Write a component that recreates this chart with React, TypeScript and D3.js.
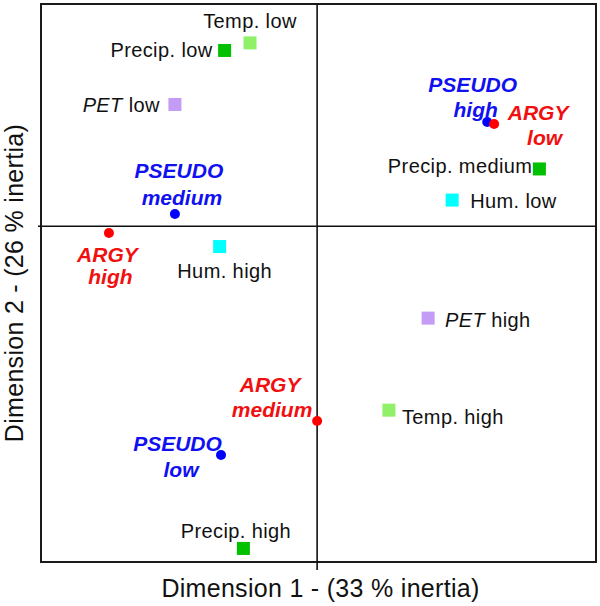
import React from "react";
import * as d3 from "d3";

// ---- Data ----
const modalities = [
  "Temp. low", "Precip. low", "PET low", "PSEUDO high", "ARGY low",
  "Precip. medium", "Hum. low", "PSEUDO medium", "ARGY high", "Hum. high",
  "PET high", "ARGY medium", "Temp. high", "PSEUDO low", "Precip. high",
];
const variables = [
  "Temp", "Precip", "PET", "PSEUDO", "ARGY",
  "Precip", "Hum", "PSEUDO", "ARGY", "Hum",
  "PET", "ARGY", "Temp", "PSEUDO", "Precip",
];
const dim1 = [
  -0.243, -0.335, -0.515, 0.616, 0.641,
  0.805, 0.489, -0.515, -0.754, -0.353,
  0.402, 0.0, 0.26, -0.348, -0.267,
];
const dim2 = [
  0.825, 0.791, 0.548, 0.469, 0.46,
  0.258, 0.118, 0.055, -0.03, -0.091,
  -0.413, -0.876, -0.827, -1.029, -1.449,
];
const xTitle = "Dimension 1 - (33 % inertia)";
const yTitle = "Dimension 2 - (26 % inertia)";

// ---- Styling / layout ----
const W = 600, H = 606;
const box = { left: 41, right: 596, top: 4, bottom: 562 };
const colorOf: Record<string, string> = {
  Temp: "#90f068",
  Precip: "#00c000",
  PET: "#c49cf6",
  Hum: "#00ffff",
  PSEUDO: "#0000ff",
  ARGY: "#ff0000",
};
const textColorOf: Record<string, string> = {
  PSEUDO: "#1010f0",
  ARGY: "#f01010",
};
// label placement (per modality): lines with anchor and pixel offsets from marker
type Line = { t: string; a: "start" | "middle" | "end"; dx: number; dy: number };
const labelLayout: Line[][] = [
  [{ t: "Temp. low", a: "middle", dx: 0, dy: -15 }],
  [{ t: "Precip. low", a: "end", dx: -12, dy: 6.5 }],
  [{ t: "PET| low", a: "end", dx: -15, dy: 7.5 }],
  [{ t: "PSEUDO", a: "middle", dx: -14.5, dy: -30 }, { t: "high", a: "middle", dx: -11.5, dy: -5 }],
  [{ t: "ARGY", a: "middle", dx: 44, dy: -4 }, { t: "low", a: "middle", dx: 50.5, dy: 21 }],
  [{ t: "Precip. medium", a: "end", dx: -7, dy: 4 }],
  [{ t: "Hum. low", a: "start", dx: 18, dy: 8 }],
  [{ t: "PSEUDO", a: "middle", dx: 4, dy: -36 }, { t: "medium", a: "middle", dx: 7, dy: -9 }],
  [{ t: "ARGY", a: "middle", dx: -1.5, dy: 29 }, { t: "high", a: "middle", dx: 1.5, dy: 51 }],
  [{ t: "Hum. high", a: "middle", dx: 5, dy: 31.5 }],
  [{ t: "PET| high", a: "start", dx: 17, dy: 9 }],
  [{ t: "ARGY", a: "middle", dx: -47, dy: -29 }, { t: "medium", a: "middle", dx: -45, dy: -4 }],
  [{ t: "Temp. high", a: "start", dx: 13, dy: 14 }],
  [{ t: "PSEUDO", a: "middle", dx: -43.5, dy: -4 }, { t: "low", a: "middle", dx: -40, dy: 22 }],
  [{ t: "Precip. high", a: "middle", dx: -7.5, dy: -10.5 }],
];

const FONT = "'Liberation Sans', Arial, sans-serif";

export default function App() {
  const x = d3.scaleLinear().domain([-1.0, 1.01]).range([box.left, box.right]);
  const y = d3.scaleLinear().domain([-1.51, 1.0]).range([box.bottom, box.top]);
  const x0 = x(0), y0 = y(0);

  return (
    <svg width={W} height={H} style={{ position: "absolute", left: 0, top: 0, background: "#fff" }}>
      <rect x={0} y={0} width={W} height={H} fill="#fff" />
      {/* frame */}
      <rect
        x={box.left}
        y={box.top}
        width={box.right - box.left}
        height={box.bottom - box.top}
        fill="none"
        stroke="#1a1a1a"
        strokeWidth={2}
      />
      {/* origin axes */}
      <line x1={x0} x2={x0} y1={box.top} y2={box.bottom + 8} stroke="#111" strokeWidth={1.6} />
      <line x1={box.left - 3} x2={box.right} y1={y0} y2={y0} stroke="#111" strokeWidth={1.6} />

      {/* markers */}
      {modalities.map((m, i) => {
        const v = variables[i];
        const cx = x(dim1[i]);
        const cy = y(dim2[i]);
        if (v === "PSEUDO" || v === "ARGY") {
          return <circle key={"m" + i} cx={cx} cy={cy} r={5} fill={colorOf[v]} />;
        }
        return <rect key={"m" + i} x={cx - 6.5} y={cy - 6.5} width={13} height={13} fill={colorOf[v]} />;
      })}

      {/* labels */}
      {modalities.map((m, i) => {
        const v = variables[i];
        const cx = x(dim1[i]);
        const cy = y(dim2[i]);
        const bold = v === "PSEUDO" || v === "ARGY";
        return (
          <g key={"l" + i}>
            {labelLayout[i].map((ln, j) => {
              const parts = ln.t.split("|");
              return (
                <text
                  key={j}
                  x={cx + ln.dx}
                  y={cy + ln.dy}
                  textAnchor={ln.a}
                  fontFamily={FONT}
                  fontSize={bold ? 21 : 20}
                  fontWeight={bold ? "bold" : "normal"}
                  fontStyle={bold ? "italic" : "normal"}
                  letterSpacing={bold ? 0 : 0.4}
                  fill={bold ? textColorOf[v] : "#111"}
                >
                  {parts.length > 1 ? (
                    <>
                      <tspan fontStyle="italic">{parts[0]}</tspan>
                      <tspan>{parts[1]}</tspan>
                    </>
                  ) : (
                    ln.t
                  )}
                </text>
              );
            })}
          </g>
        );
      })}

      {/* axis titles */}
      <text
        x={(box.left + box.right) / 2 + 2}
        y={597}
        textAnchor="middle"
        fontFamily={FONT}
        fontSize={25}
        letterSpacing={0.3}
        fill="#111"
      >
        {xTitle}
      </text>
      <text
        transform={`translate(23, ${(box.top + box.bottom) / 2}) rotate(-90)`}
        textAnchor="middle"
        fontFamily={FONT}
        fontSize={25}
        letterSpacing={0.3}
        fill="#111"
      >
        {yTitle}
      </text>
    </svg>
  );
}
